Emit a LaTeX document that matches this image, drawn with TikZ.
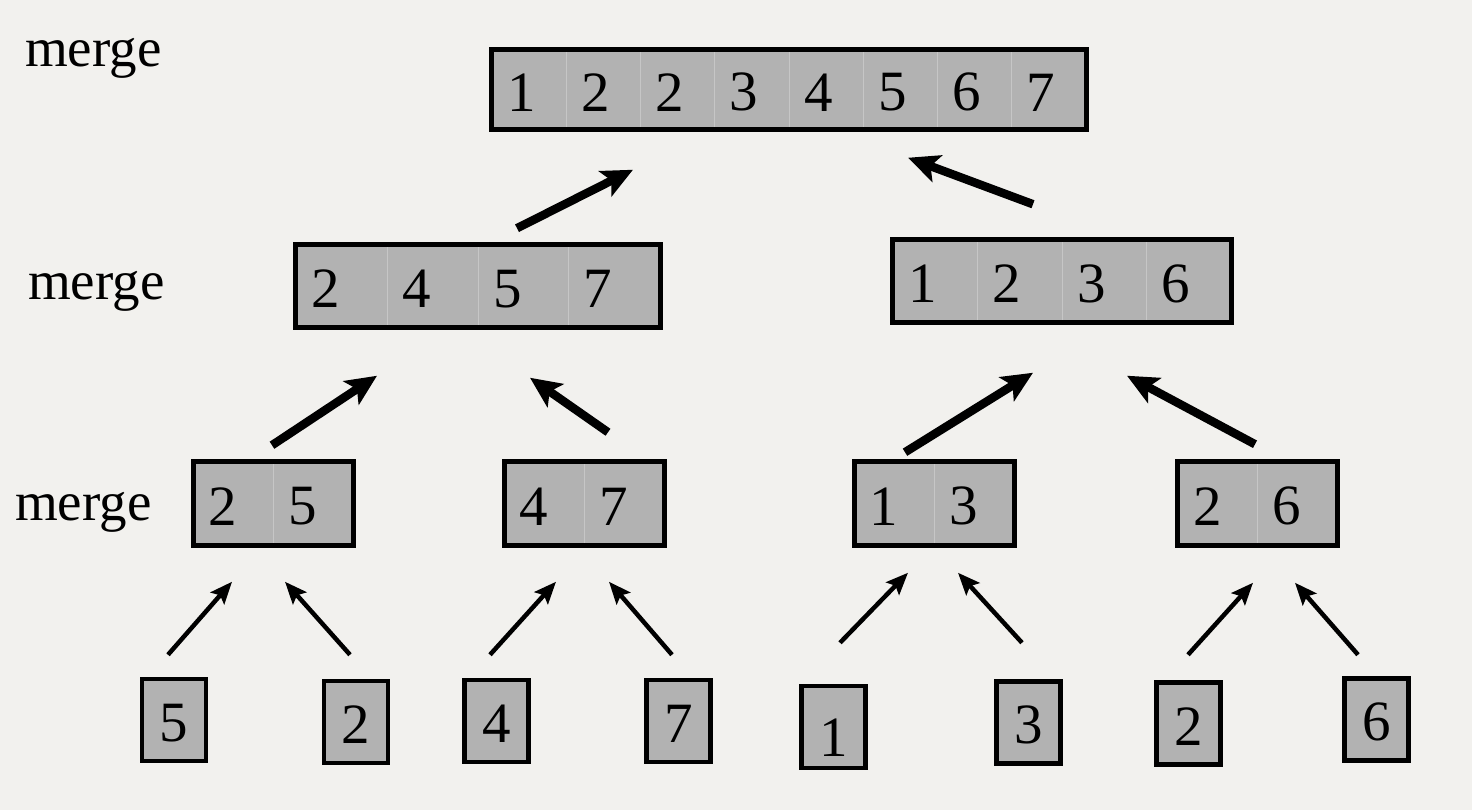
\documentclass[tikz,border=0pt]{standalone}
\usepackage{fontspec}
\setmainfont{Liberation Serif}
\usetikzlibrary{fit,arrows.meta}
\definecolor{paper}{HTML}{F2F1EE}
\definecolor{boxgray}{HTML}{B2B2B2}
\definecolor{cellline}{HTML}{C6C6C6}

\begin{document}
\begin{tikzpicture}[x=1pt,y=-1pt,
  cell/.style={rectangle, fill=boxgray, draw=cellline, line width=1pt, inner xsep=15pt, inner ysep=0pt, align=left, text height=43.5pt, font=\fontsize{57}{62}\selectfont},
  frame/.style={rectangle, draw=black, line width=5pt, inner sep=0pt},
  leaf/.style={rectangle, fill=boxgray, draw=black, line width=4.5pt, minimum width=64pt, minimum height=82pt, inner sep=0pt, text height=43.5pt, font=\fontsize{57}{62}\selectfont},
  mergetext/.style={anchor=base west, inner sep=0pt, font=\fontsize{55}{60}\selectfont},
  bigarrow/.style={-{Stealth[length=31pt,width=28pt,inset=7pt]}, line width=8.5pt},
  smallarrow/.style={-{Stealth[length=22pt,width=18pt,inset=4pt]}, line width=4.5pt}]
\fill[paper] (0,0) rectangle (1472,810);
\useasboundingbox (0,0) rectangle (1472,810);

\node[mergetext] (m1) at (25,67) {merge};
\node[mergetext] (m2) at (28,300) {merge};
\node[mergetext] (m3) at (15,520) {merge};

%-------------------------------------
% merged rows
\foreach \nm/\x/\y/\w/\h/\n/\digits in {
  top/492.25/89.5/74.19/78.5/8/{1,2,2,3,4,5,6,7},
  lft/296.25/286/90.875/81.5/4/{2,4,5,7},
  rgt/893.25/281/84.375/81.5/4/{1,2,3,6},
  pa/193.5/503.5/79.5/82.5/2/{2,5},
  pb/504.5/503.5/79.5/82.5/2/{4,7},
  pc/854.5/503.5/79.5/82.5/2/{1,3},
  pd/1178/503.5/79.5/82.5/2/{2,6}}
{
  \pgfmathsetmacro\tw{\w-30}
  \foreach \d [count=\i] in \digits
    \node[cell, minimum width=\w pt, minimum height=\h pt, text width=\tw pt] (\nm\i) at ({\x+\w*(\i-0.5)},\y) {\d};
  \node[frame, fit=(\nm1)(\nm\n)] (\nm) {};
}

%-------------------------------------
% single elements
\node[leaf] (l1) at (174,720) {5};
\node[leaf] (l2) at (356,722) {2};
\node[leaf] (l3) at (496.5,721) {4};
\node[leaf] (l4) at (678.5,721) {7};
\node[leaf, text height=58pt] (l5) at (833.5,727) {1};
\node[leaf] (l6) at (1028.5,722.5) {3};
\node[leaf] (l7) at (1188.5,723.5) {2};
\node[leaf] (l8) at (1376.5,719.5) {6};

%-------------------------------------
\foreach \a/\sx/\sy/\b/\tx/\ty in {
  l1/-6/-22/pa/-41/34, l2/-6/-24/pa/12/34,
  l3/-6.5/-23/pb/-28/34, l4/-6.5/-23/pb/25/34,
  l5/6.5/-41/pc/-26/25, l6/-6.5/-36.5/pc/24/25,
  l7/-0.5/-25.5/pd/-4.5/35, l8/-18.5/-21.5/pd/37.5/35}
  \draw[smallarrow] ([shift={(\sx,\sy)}]\a.north) -- ([shift={(\tx,\ty)}]\b.south);

\foreach \a/\sx/\sy/\b/\tx/\ty in {
  pa/-1/-14/lft/-101/46, pb/24/-27/lft/52/48,
  pc/-29/-7/rgt/-29/48, pd/-2.5/-15/rgt/65/51,
  lft/39/-14/top/-156/38, rgt/-29/-33/top/119/26}
  \draw[bigarrow] ([shift={(\sx,\sy)}]\a.north) -- ([shift={(\tx,\ty)}]\b.south);
\end{tikzpicture}
\end{document}
